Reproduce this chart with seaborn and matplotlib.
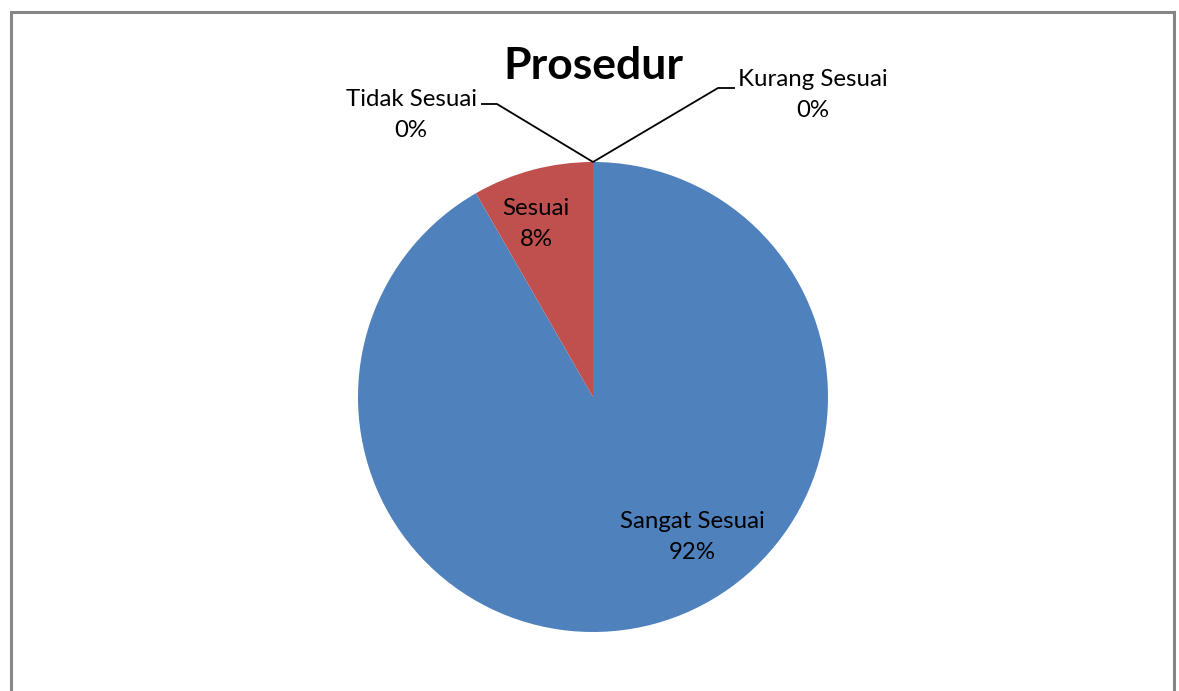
import numpy as np
import matplotlib
matplotlib.use("Agg")
import matplotlib.pyplot as plt
from matplotlib.patches import Rectangle
import seaborn as sns

# ---- data ----
categories = ["Sangat Sesuai", "Sesuai", "Tidak Sesuai", "Kurang Sesuai"]
values = [91.7, 8.3, 0.0, 0.0]
colors = ["#4F81BD", "#C0504D", "#9BBB59", "#8064A2"]
title = "Prosedur"

sns.set_theme(style="white")
plt.rcParams['font.family'] = ['Lato', 'DejaVu Sans']

W, H = 1179, 691
fig = plt.figure(figsize=(W / 100, H / 100), dpi=100)
ax = fig.add_axes([0, 0, 1, 1])

def Y(py):
    return H - py

cx, cy, R = 593, 397, 235
wedges, _ = ax.pie(values, colors=colors, startangle=90, counterclock=False,
                   center=(cx, Y(cy)), radius=R, frame=True,
                   wedgeprops=dict(linewidth=0))
ax.set_xlim(0, W)
ax.set_ylim(0, H)
ax.set_aspect("equal")
ax.axis("off")

total = sum(values)
pct = [f"{round(v / total * 100):.0f}%" for v in values]
fs = 17.3
ls = 1.55

# inside labels
inside_pos = {0: (692, 537), 1: (536, 224)}
for i, (px, py) in inside_pos.items():
    ax.text(px, Y(py), f"{categories[i]}\n{pct[i]}", ha="center", va="center",
            fontsize=fs, color="black", linespacing=ls)

# outside labels with leader lines
outside = {2: dict(text=(411, 115), elbow=(497, 104), end=(481, 104)),
           3: dict(text=(813, 95), elbow=(718, 88), end=(735, 88))}
for i, d in outside.items():
    w = wedges[i]
    ang = np.deg2rad((w.theta1 + w.theta2) / 2)
    sx, sy = cx + R * np.cos(ang), Y(cy) + R * np.sin(ang)
    ex, ey = d["elbow"]
    tx, ty = d["end"]
    ax.plot([sx, ex, tx], [sy, Y(ey), Y(ty)], color="black", lw=1.3,
            solid_capstyle="butt")
    ax.text(d["text"][0], Y(d["text"][1]), f"{categories[i]}\n{pct[i]}",
            ha="center", va="center", fontsize=fs, color="black", linespacing=ls)

ax.text(593, Y(66), title, ha="center", va="center", fontsize=32,
        fontweight="bold", color="black")

# chart border
fig.patches.append(Rectangle((10.5, -20), 1163.5, H - 12 + 20, transform=None,
                             fill=False, edgecolor="#868686", linewidth=2.2))

fig.savefig("out.png", dpi=100)
